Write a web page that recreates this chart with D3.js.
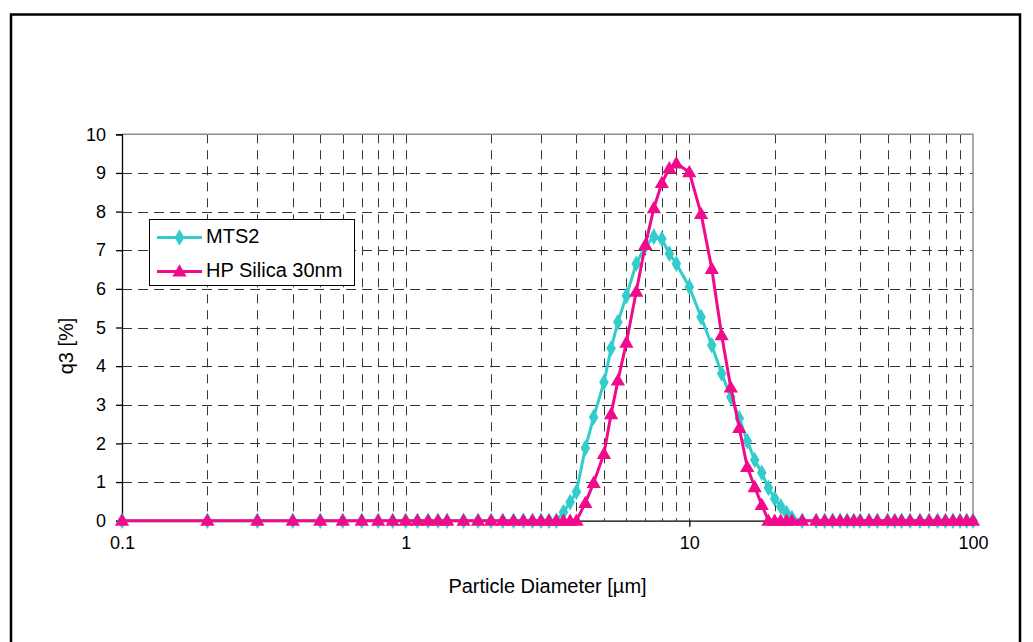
<!DOCTYPE html>
<html>
<head>
<meta charset="utf-8">
<script src="https://cdn.jsdelivr.net/npm/d3@7"></script>
<style>
  html, body { margin: 0; padding: 0; background: #fff; }
  svg { display: block; font-family: "Liberation Sans", Arial, sans-serif; }
</style>
</head>
<body>
<svg id="chart" width="1033" height="642"></svg>
<script>
// Size classes (µm) shared by both distributions
const diameters = [0.1, 0.2, 0.3, 0.4, 0.5, 0.6, 0.7, 0.8, 0.9, 1.0,
  1.1, 1.2, 1.3, 1.4, 1.6, 1.8, 2.0, 2.2, 2.4, 2.6, 2.8, 3.0,
  3.2, 3.4, 3.6, 3.8, 4.0, 4.3, 4.6, 5.0, 5.3, 5.6, 6.0, 6.5, 7.0, 7.5, 8.0, 8.5, 9.0,
  10, 11, 12, 13, 14, 15, 16, 17, 18, 19, 20, 21, 22, 23, 25, 28,
  30, 32, 34, 36, 38, 40, 43, 46, 50, 53, 56, 60, 65, 70, 75, 80, 85, 90, 95, 100];

// q3 density [%] per class
const mts2 = [0, 0, 0, 0, 0, 0, 0, 0, 0, 0,
  0, 0, 0, 0, 0, 0, 0, 0, 0, 0, 0, 0,
  0, 0, 0.22, 0.48, 0.75, 1.88, 2.68, 3.58, 4.46, 5.14, 5.82, 6.65, 7.11, 7.35, 7.29, 6.91, 6.65,
  6.05, 5.27, 4.54, 3.81, 3.2, 2.65, 2.06, 1.57, 1.24, 0.85, 0.57, 0.37, 0.2, 0.07, 0, 0,
  0, 0, 0, 0, 0, 0, 0, 0, 0, 0, 0, 0, 0, 0, 0, 0, 0, 0, 0, 0];

const hpSilica = [0, 0, 0, 0, 0, 0, 0, 0, 0, 0,
  0, 0, 0, 0, 0, 0, 0, 0, 0, 0, 0, 0,
  0, 0, 0, 0, 0, 0.46, 0.98, 1.73, 2.76, 3.63, 4.61, 5.93, 7.14, 8.09, 8.74, 9.12, 9.25,
  9.02, 7.94, 6.52, 4.8, 3.45, 2.4, 1.39, 0.87, 0.41, 0, 0, 0, 0, 0, 0, 0,
  0, 0, 0, 0, 0, 0, 0, 0, 0, 0, 0, 0, 0, 0, 0, 0, 0, 0, 0, 0];

const seriesNames = ["MTS2", "HP Silica 30nm"];
const seriesColors = ["#33cccc", "#f00a8c"];

const xTickLabels = [0.1, 1, 10, 100];
const yTicks = [0, 1, 2, 3, 4, 5, 6, 7, 8, 9, 10];
const xTitle = "Particle Diameter [µm]";
const yTitle = "q3 [%]";

const svg = d3.select("#chart");

// outer frame (runs past the lower edge of the canvas)
svg.append("rect")
  .attr("x", 11).attr("y", 14.5)
  .attr("width", 1009).attr("height", 660)
  .attr("fill", "#fff").attr("stroke", "#000").attr("stroke-width", 2.5);

const plot = { left: 122, right: 973, top: 134.3, bottom: 520.7 };

const x = d3.scaleLog().domain([0.1, 100]).range([plot.left, plot.right]);
const y = d3.scaleLinear().domain([0, 10]).range([plot.bottom, plot.top]);

// gridlines
const gridX = [];
[0.1, 1, 10].forEach(dec => { for (let k = 1; k <= 9; k++) gridX.push(dec * k); });
const grid = svg.append("g");
grid.selectAll("line.gx").data(gridX.filter(v => v > 0.1 + 1e-9)).join("line")
  .attr("x1", d => Math.round(x(d)) + 0.5).attr("x2", d => Math.round(x(d)) + 0.5)
  .attr("y1", plot.top).attr("y2", plot.bottom)
  .attr("stroke", "#333").attr("stroke-width", 1).attr("stroke-dasharray", "9,7");
grid.selectAll("line.gy").data(yTicks.filter(v => v > 0 && v < 10)).join("line")
  .attr("x1", plot.left).attr("x2", plot.right)
  .attr("y1", d => Math.round(y(d)) + 0.5).attr("y2", d => Math.round(y(d)) + 0.5)
  .attr("stroke", "#333").attr("stroke-width", 1).attr("stroke-dasharray", "10,6");

// plot-area border (top and right)
svg.append("path")
  .attr("d", `M${plot.left},${plot.top}H${plot.right}V${plot.bottom}`)
  .attr("fill", "none").attr("stroke", "#8c8c8c").attr("stroke-width", 1.5);

// y axis
const yAxis = d3.axisLeft(y).tickValues(yTicks).tickSize(6).tickPadding(10).tickFormat(d3.format("d"));
const gy = svg.append("g").attr("transform", `translate(${plot.left},0)`).call(yAxis);
gy.select(".domain").attr("stroke", "#000").attr("stroke-width", 1.3);
gy.selectAll(".tick line").attr("stroke", "#000").attr("stroke-width", 1.3);
gy.selectAll(".tick text").attr("font-size", 18).attr("fill", "#000")
  .attr("font-family", "Liberation Sans, Arial, sans-serif");

// x axis
const xAxis = d3.axisBottom(x).tickValues(xTickLabels).tickSize(6).tickPadding(10)
  .tickFormat(d => String(d));
const gx = svg.append("g").attr("transform", `translate(0,${plot.bottom})`).call(xAxis);
gx.select(".domain").attr("stroke", "#000").attr("stroke-width", 1.3);
gx.selectAll(".tick line").attr("stroke", "#000").attr("stroke-width", 1.3);
gx.selectAll(".tick text").attr("font-size", 18).attr("fill", "#000")
  .attr("font-family", "Liberation Sans, Arial, sans-serif");

// axis titles
svg.append("text")
  .attr("x", (plot.left + plot.right) / 2).attr("y", 593)
  .attr("text-anchor", "middle").attr("font-size", 20).attr("fill", "#000")
  .text(xTitle);
svg.append("text")
  .attr("transform", "translate(73,346) rotate(-90)")
  .attr("text-anchor", "middle").attr("font-size", 20).attr("fill", "#000")
  .text(yTitle);

// series
const seriesData = [mts2, hpSilica].map(vals => diameters.map((d, i) => ({ d, v: vals[i] })));
const line = d3.line().x(p => x(p.d)).y(p => y(p.v));
const diamond = d3.symbol().type(d3.symbolDiamond).size(80);
const triangle = d3.symbol().type(d3.symbolTriangle).size(88);
const shapes = [diamond, triangle];

seriesData.forEach((pts, s) => {
  const g = svg.append("g");
  g.append("path").datum(pts).attr("d", line)
    .attr("fill", "none").attr("stroke", seriesColors[s]).attr("stroke-width", 3)
    .attr("stroke-linejoin", "round");
  g.selectAll("path.m").data(pts).join("path").attr("class", "m")
    .attr("transform", p => `translate(${x(p.d)},${y(p.v) + (s === 1 ? 1 : 0)})`)
    .attr("d", shapes[s]()).attr("fill", seriesColors[s]);
});

// legend
const lg = svg.append("g");
lg.append("rect").attr("x", 149.5).attr("y", 219.5).attr("width", 205).attr("height", 66)
  .attr("fill", "#fff").attr("stroke", "#000").attr("stroke-width", 1);
seriesNames.forEach((name, s) => {
  const cy = s === 0 ? 237.5 : 271.5;
  lg.append("line").attr("x1", 157).attr("x2", 202).attr("y1", cy).attr("y2", cy)
    .attr("stroke", seriesColors[s]).attr("stroke-width", 3);
  lg.append("path").attr("transform", `translate(179.5,${cy + (s === 1 ? 1 : 0)})`)
    .attr("d", shapes[s]()).attr("fill", seriesColors[s]);
  lg.append("text").attr("x", 206).attr("y", s === 0 ? 243 : 277)
    .attr("font-size", 20).attr("fill", "#000").text(name);
});
</script>
</body>
</html>
